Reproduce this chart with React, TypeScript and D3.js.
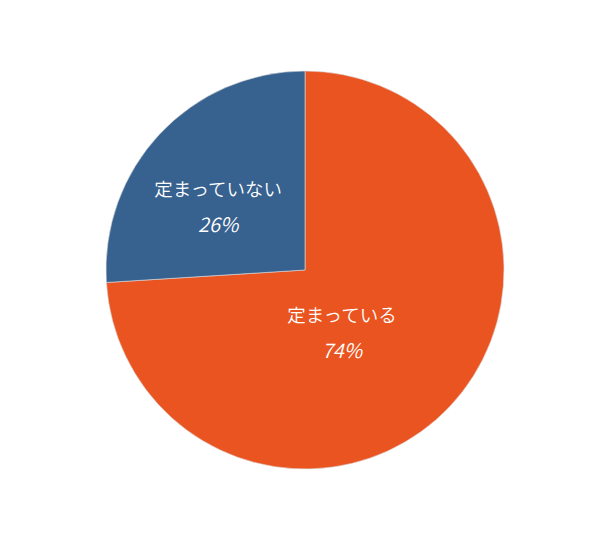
import React from "react";
import * as d3 from "d3";

const labels: string[] = ["定まっている", "定まっていない"];
const values: number[] = [74, 26];
const colors: string[] = ["#EA5421", "#37618F"];

const W = 610;
const H = 534;
const cx = 305;
const cy = 270;
const radius = 199;

// where each label sits inside its slice (fraction of the sweep, distance from centre)
const labelFrac: number[] = [0.563, 0.42];
const labelDist: number[] = [74, 107];

const App: React.FC = () => {
  const pie = d3.pie<number>().sort(null).value(d => d);
  const arcs = pie(values);
  const arc = d3.arc<d3.PieArcDatum<number>>().innerRadius(0).outerRadius(radius);

  return (
    <svg
      width={W}
      height={H}
      style={{ position: "absolute", left: 0, top: 0, background: "#fff" }}
      fontFamily="'Noto Sans CJK JP', 'Noto Sans', sans-serif"
    >
      <g transform={`translate(${cx},${cy})`}>
        {arcs.map((a, i) => (
          <path key={i} d={arc(a) ?? ""} fill={colors[i]} stroke="#ddd" strokeWidth={0.6} />
        ))}
        {arcs.map((a, i) => {
          const ang = a.startAngle + labelFrac[i] * (a.endAngle - a.startAngle);
          const x = Math.sin(ang) * labelDist[i];
          const y = -Math.cos(ang) * labelDist[i];
          return (
            <g key={"l" + i} transform={`translate(${x},${y})`} fill="#fff" textAnchor="middle" fontWeight={350}>
              <text y={-12} fontSize={18.5}>{labels[i]}</text>
              <text y={24} fontSize={20} fontStyle="italic">{values[i]}%</text>
            </g>
          );
        })}
      </g>
    </svg>
  );
};

export default App;
